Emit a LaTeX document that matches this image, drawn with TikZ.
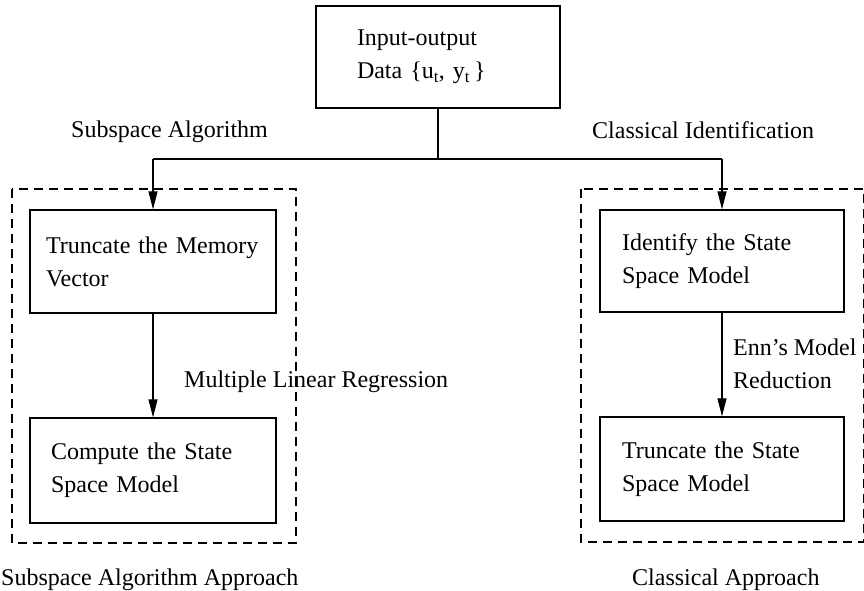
\documentclass[tikz,border=0pt]{standalone}
\usepackage{fontspec}
\setmainfont{Liberation Serif}
\usetikzlibrary{arrows.meta}
\begin{document}
\begin{tikzpicture}[x=1pt,y=-1pt,
  every node/.style={font=\fontsize{24}{33}\selectfont},
  procbox/.style={draw,line width=1.4pt,align=left,inner ysep=0pt},
  grp/.style={draw,line width=1.2pt,dash pattern=on 9pt off 6pt},
  conn/.style={line width=1.2pt},
  arr/.style={line width=1.2pt,-{Triangle[length=18pt,width=9pt]}},
  lbl/.style={anchor=base west,inner sep=0pt}]
\useasboundingbox (0,0) rectangle (864,590);
% group frames
\draw[grp] (12,189) rectangle (296,543);
\draw[grp] (581,189) rectangle (864,542);
% boxes
\node[procbox,minimum width=244pt,minimum height=102pt,text width=162pt,inner xsep=41pt] (top) at (438,57)
  {Input-output\\Data \{u\textsubscript{t}, y\textsubscript{t}\,\}};
\node[procbox,minimum width=246pt,minimum height=103pt,text width=214pt,inner xsep=16pt] (L1) at (153,261.5)
  {Truncate the Memory\\Vector};
\node[procbox,minimum width=246pt,minimum height=105pt,text width=204pt,inner xsep=21pt] (L2) at (153,470.5)
  {Compute the State\\Space Model};
\node[procbox,minimum width=244pt,minimum height=102pt,text width=200pt,inner xsep=22pt] (R1) at (722,261)
  {Identify the State\\Space Model};
\node[procbox,minimum width=244pt,minimum height=104pt,text width=200pt,inner xsep=22pt] (R2) at (722,469)
  {Truncate the State\\Space Model};
% connectors
\coordinate (jl) at (153,159);
\coordinate (jr) at (722,159);
\draw[conn] (top.south) -- (top.south |- jl);
\draw[conn] (jl) -- (jr);
\draw[arr] (jl) -- (L1.north);
\draw[arr] (jr) -- (R1.north);
\draw[arr] (L1.south) -- (L2.north);
\draw[arr] (R1.south) -- (R2.north);
% labels
\node[lbl] (lsub) at (71,137) {Subspace Algorithm};
\node[lbl] (lcls) at (592,138) {Classical Identification};
\node[lbl] (lmlr) at (184,387) {Multiple Linear Regression};
\node[lbl] (lenn) at (733,355) {Enn's Model};
\node[lbl] (lred) at (733,388) {Reduction};
\node[lbl] (lsaa) at (1,585) {Subspace Algorithm Approach};
\node[lbl] (lca) at (632,585) {Classical Approach};
\end{tikzpicture}
\end{document}
